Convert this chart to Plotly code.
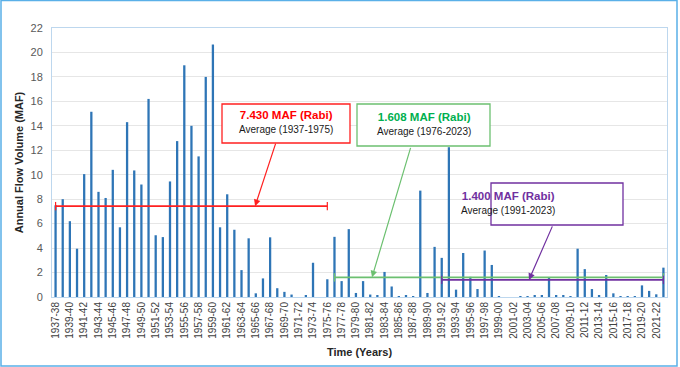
import plotly.graph_objects as go

# ---- data ----
start_years = list(range(1937, 2023))
categories = [f"{y}-{str(y + 1)[-2:]}" for y in start_years]

flow_maf = [
    7.5, 8.0, 6.2, 3.95, 10.05, 15.15, 8.6, 8.1, 10.4, 5.7,
    14.3, 10.35, 9.2, 16.2, 5.05, 4.9, 9.45, 12.75, 18.95, 14.0,
    11.5, 18.0, 20.65, 5.7, 8.4, 5.5, 2.2, 4.8, 0.3, 1.52,
    4.88, 0.72, 0.42, 0.2, 0.0, 0.15, 2.8, 0.0, 1.45, 4.92,
    1.3, 5.55, 0.33, 1.3, 0.2, 0.15, 2.05, 0.86, 0.05, 0.12,
    0.07, 8.7, 0.33, 4.1, 3.2, 12.25, 0.6, 3.6, 1.65, 0.65,
    3.8, 2.62, 0.08, 0.0, 0.0, 0.05, 0.08, 0.1, 0.12, 1.58,
    0.1, 0.13, 0.07, 3.95, 2.28, 0.65, 0.13, 1.8, 0.3, 0.07,
    0.07, 0.04, 0.95, 0.5, 0.22, 2.4,
]

tick_labels = categories[::2]

# averages: (value, first category, last category, line colour, text colour, label, period)
averages = [
    (7.430, "1937-38", "1975-76", "#FF2020", "#FF0000", "7.430 MAF (Rabi)", "Average (1937-1975)"),
    (1.608, "1976-77", "2022-23", "#6CC070", "#00B050", "1.608 MAF (Rabi)", "Average (1976-2023)"),
    (1.400, "1991-92", "2022-23", "#7030A0", "#7030A0", "1.400 MAF (Rabi)", "Average (1991-2023)"),
]

# ---- figure ----
L, R, T, B = 52, 13, 28, 70
W, H = 680, 367
PW, PH = W - L - R, H - T - B


def px(x):
    return (x - L) / PW


def py(y):
    return (H - B - y) / PH


fig = go.Figure()
fig.add_trace(go.Bar(
    x=categories, y=flow_maf, width=0.32,
    marker=dict(color="#2E75B6", line=dict(width=0)),
    showlegend=False,
))

for val, c0, c1, lc, tc, t1, t2 in averages:
    fig.add_trace(go.Scatter(
        x=[c0, c1], y=[val, val], mode="lines+markers",
        line=dict(color=lc, width=1.6),
        marker=dict(symbol="line-ns", size=6, line=dict(color=lc, width=1.2)),
        showlegend=False, hoverinfo="skip",
    ))

# text boxes (pixel positions of the callouts)
boxes = [
    (222, 350, 104, 143),
    (357, 490, 104, 146),
    (491, 623, 183, 225),
]
# arrow heads (category index along the average lines) and tail offsets in px
arrows = [
    (27.9, (21, -64)),
    (44.25, (39, -131)),
    (66.2, (24, -55)),
]

for (val, c0, c1, lc, tc, t1, t2), (x0, x1, y0, y1), (hx, (ax, ay)) in zip(averages, boxes, arrows):
    fig.add_shape(type="rect", xref="paper", yref="paper",
                  x0=px(x0), x1=px(x1), y0=py(y1), y1=py(y0),
                  line=dict(color=lc, width=1.3), fillcolor="white", layer="above")
    fig.add_annotation(
        xref="paper", yref="paper", x=px((x0 + x1) / 2), y=py((y0 + y1) / 2 - 1),
        text=f"<b><span style='color:{tc};font-size:11.5px'>{t1}</span></b><br>"
             f"<span style='color:#1a1a1a;font-size:10px'>{t2}</span>",
        showarrow=False, align="center", font=dict(family="Liberation Sans, Arial", size=11),
    )
    fig.add_annotation(
        x=hx, y=val, xref="x", yref="y", ax=ax, ay=ay, text="",
        showarrow=True, arrowhead=2, arrowsize=1.1, arrowwidth=1.2, arrowcolor=lc,
    )

# outer frame
fig.add_shape(type="rect", xref="paper", yref="paper",
              x0=px(1), x1=px(677), y0=py(366), y1=py(0.5),
              line=dict(color="#5AB0E8", width=1.5), layer="above")

fig.update_layout(
    width=W, height=H,
    margin=dict(l=L, r=R, t=T, b=B, autoexpand=False),
    paper_bgcolor="white", plot_bgcolor="white",
    font=dict(family="Liberation Sans, Arial", color="#595959"),
    bargap=0.6,
    xaxis=dict(
        type="category", categoryorder="array", categoryarray=categories,
        tickmode="array", tickvals=tick_labels, ticktext=tick_labels,
        tickangle=-90, tickfont=dict(size=10, color="#404040"),
        showgrid=False, showline=True, linecolor="#BDD7EE", mirror=True,
        ticks="", range=[-0.5, len(categories) - 0.5],
        title=dict(text="<b>Time (Years)</b>", font=dict(size=11, color="#262626"), standoff=10),
        automargin=False,
    ),
    yaxis=dict(
        range=[0, 22], dtick=2, tick0=0,
        tickfont=dict(size=11, color="#595959"),
        showgrid=True, gridcolor="#E6E6E6", gridwidth=1,
        showline=True, linecolor="#BDD7EE", mirror=True,
        zeroline=False, ticks="", ticklabelstandoff=6,
        title=dict(text="<b>Annual Flow Volume (MAF)</b>", font=dict(size=11, color="#262626"), standoff=4),
        automargin=False,
    ),
)

fig.write_html(
    "out.html",
    config={"displayModeBar": False},
    post_script="document.body.style.margin='0';document.body.style.padding='0';",
)
